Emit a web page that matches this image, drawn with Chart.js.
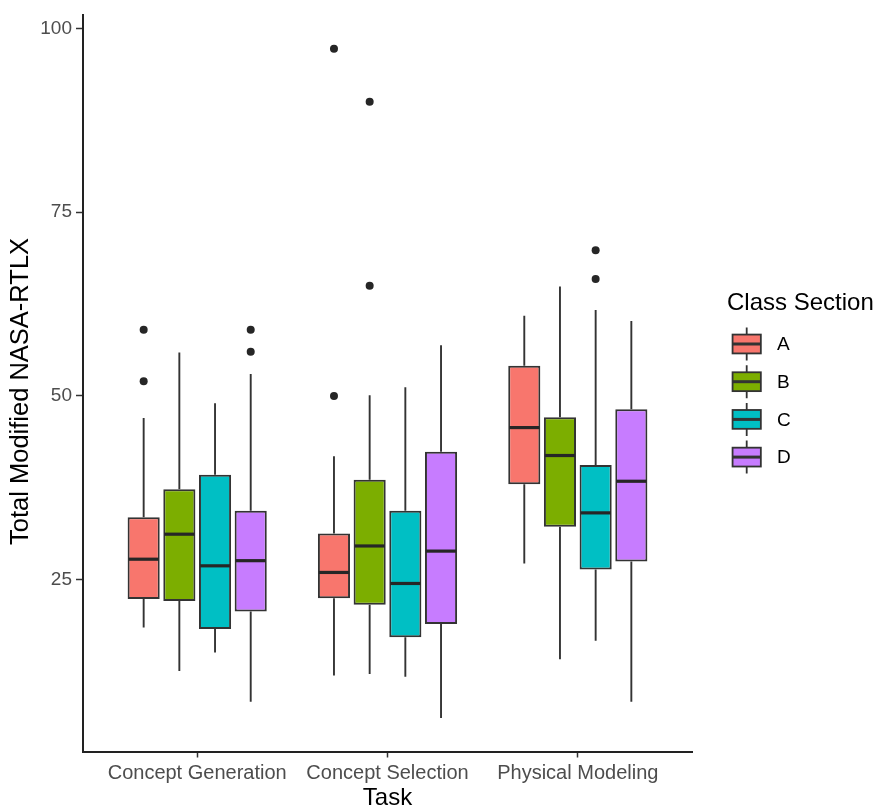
<!DOCTYPE html>
<html>
<head>
<meta charset="utf-8">
<title>Total Modified NASA-RTLX by Task and Class Section</title>
<script src="https://cdn.jsdelivr.net/npm/chart.js@4/dist/chart.umd.min.js"></script>
<style>
  html, body { margin: 0; padding: 0; background: #ffffff; }
  #wrap { width: 879px; height: 810px; }
</style>
</head>
<body>
<div id="wrap"><canvas id="chart" width="879" height="810"></canvas></div>
<script>
// Tasks on the x axis, class sections as dodged boxes within each task
const tasks = ['Concept Generation', 'Concept Selection', 'Physical Modeling'];
const sections = ['A', 'B', 'C', 'D'];
const sectionColors = ['#F8766D', '#7CAE00', '#00BFC4', '#C77CFF'];

// Box statistics: one row per class section (A-D), one column per task
const whiskerLow  = [[18.5, 12.0, 27.2], [12.6, 12.2, 14.2], [15.1, 11.8, 16.7], [8.4, 6.2, 8.4]];
const quartile1   = [[22.4, 22.5, 38.0], [22.1, 21.6, 32.2], [18.3, 17.2, 26.4], [20.7, 19.0, 27.5]];
const median      = [[27.8, 26.0, 45.7], [31.2, 29.6, 41.9], [26.9, 24.5, 34.1], [27.6, 28.9, 38.4]];
const quartile3   = [[33.5, 31.3, 54.1], [37.3, 38.6, 47.1], [39.3, 34.4, 40.6], [34.4, 42.4, 48.2]];
const whiskerHigh = [[47.0, 41.8, 60.9], [55.9, 50.1, 64.9], [49.0, 51.2, 61.7], [53.0, 56.9, 60.2]];
const outliers    = [
  [[52, 59], [50, 97.2], []],
  [[], [65, 90], []],
  [[], [], [65.9, 69.8]],
  [[56, 59], [], []]
];
const yTicks = [25, 50, 75, 100];

const FONT = '"Liberation Sans", Arial, Helvetica, sans-serif';
const LINE = '#333333';

// Dodge the boxes of each task side by side (total dodge width 0.75 of a category)
const dodgeWidth = 0.75;
const boxPos = (s, t) => t + 1 + (s - (sections.length - 1) / 2) * dodgeWidth / sections.length;

// Value range with 5% expansion on both ends
const allValues = [...whiskerLow.flat(), ...whiskerHigh.flat(), ...outliers.flat(2)];
const vMin = Math.min(...allValues), vMax = Math.max(...allValues);
const pad = (vMax - vMin) * 0.05;

const boxDatasets = sections.map((name, s) => ({
  type: 'bar',
  label: name,
  data: tasks.map((_, t) => ({ x: boxPos(s, t), y: [quartile1[s][t], quartile3[s][t]] })),
  backgroundColor: sectionColors[s],
  borderColor: LINE,
  borderWidth: 2,
  borderSkipped: false,
  grouped: false,
  categoryPercentage: 1,
  barPercentage: 0.9,
  order: 2
}));

const outlierDatasets = sections.map((name, s) => ({
  type: 'scatter',
  label: name + ' outliers',
  data: tasks.flatMap((_, t) => outliers[s][t].map(v => ({ x: boxPos(s, t), y: v }))),
  pointRadius: 4,
  pointBackgroundColor: '#262626',
  pointBorderWidth: 0,
  order: 1
}));

// Whiskers under the boxes, medians on top of them
const boxplotLines = {
  id: 'boxplotLines',
  beforeDatasetsDraw(chart) {
    const { ctx } = chart;
    const yScale = chart.scales.y;
    ctx.save();
    ctx.strokeStyle = LINE;
    ctx.lineWidth = 1.9;
    sections.forEach((_, s) => {
      const meta = chart.getDatasetMeta(s);
      meta.data.forEach((bar, t) => {
        ctx.beginPath();
        ctx.moveTo(bar.x, yScale.getPixelForValue(whiskerHigh[s][t]));
        ctx.lineTo(bar.x, yScale.getPixelForValue(quartile3[s][t]));
        ctx.moveTo(bar.x, yScale.getPixelForValue(quartile1[s][t]));
        ctx.lineTo(bar.x, yScale.getPixelForValue(whiskerLow[s][t]));
        ctx.stroke();
      });
    });
    ctx.restore();
  },
  afterDatasetsDraw(chart) {
    const { ctx } = chart;
    const yScale = chart.scales.y;
    ctx.save();
    ctx.strokeStyle = '#262626';
    ctx.lineWidth = 3.2;
    sections.forEach((_, s) => {
      const meta = chart.getDatasetMeta(s);
      meta.data.forEach((bar, t) => {
        const y = yScale.getPixelForValue(median[s][t]);
        ctx.beginPath();
        ctx.moveTo(bar.x - bar.width / 2 + 1, y);
        ctx.lineTo(bar.x + bar.width / 2 - 1, y);
        ctx.stroke();
      });
    });
    ctx.restore();
  }
};

// Y-axis title, set slightly below the panel centre
const yAxisTitle = {
  id: 'yAxisTitle',
  afterDraw(chart) {
    const { ctx, chartArea } = chart;
    ctx.save();
    ctx.translate(21, (chartArea.top + chartArea.bottom) / 2 + 8);
    ctx.rotate(-Math.PI / 2);
    ctx.fillStyle = '#000000';
    ctx.font = '25.5px ' + FONT;
    ctx.textAlign = 'center';
    ctx.textBaseline = 'middle';
    ctx.fillText('Total Modified NASA-RTLX', 0, 0);
    ctx.restore();
  }
};

// Legend with boxplot keys to the right of the panel
const boxLegend = {
  id: 'boxLegend',
  afterDraw(chart) {
    const { ctx } = chart;
    const left = chart.chartArea.right + 35;
    const key = 37.7;
    ctx.save();
    ctx.fillStyle = '#000000';
    ctx.textBaseline = 'middle';
    ctx.textAlign = 'left';
    ctx.font = '24px ' + FONT;
    ctx.fillText('Class Section', left, 303);
    sections.forEach((name, i) => {
      const cy = 344 + i * key;
      const cx = left + 19.7;
      const bw = key * 0.75, bh = key * 0.5;
      ctx.strokeStyle = LINE;
      ctx.lineWidth = 1.8;
      ctx.beginPath();
      ctx.moveTo(cx, cy - 16.5); ctx.lineTo(cx, cy - bh / 2);
      ctx.moveTo(cx, cy + bh / 2); ctx.lineTo(cx, cy + 16.5);
      ctx.stroke();
      ctx.fillStyle = sectionColors[i];
      ctx.fillRect(cx - bw / 2, cy - bh / 2, bw, bh);
      ctx.strokeRect(cx - bw / 2, cy - bh / 2, bw, bh);
      ctx.lineWidth = 3;
      ctx.beginPath();
      ctx.moveTo(cx - bw / 2, cy); ctx.lineTo(cx + bw / 2, cy);
      ctx.stroke();
      ctx.fillStyle = '#000000';
      ctx.font = '19px ' + FONT;
      ctx.fillText(name, left + 50, cy + 1);
    });
    ctx.restore();
  }
};

new Chart(document.getElementById('chart'), {
  type: 'bar',
  data: { datasets: [...boxDatasets, ...outlierDatasets] },
  options: {
    responsive: false,
    devicePixelRatio: 1,
    animation: false,
    events: [],
    layout: { padding: { top: 13, right: 187, bottom: 0, left: 0 } },
    plugins: { legend: { display: false }, tooltip: { enabled: false } },
    scales: {
      x: {
        type: 'linear',
        min: 0.4,
        max: tasks.length + 0.6,
        offset: false,
        afterBuildTicks(scale) { scale.ticks = tasks.map((_, t) => ({ value: t + 1 })); },
        afterFit(scale) { scale.height = 58.5; },
        border: { display: true, color: '#222222', width: 2 },
        grid: { display: true, offset: false, drawOnChartArea: false, drawTicks: true, tickLength: 6, tickColor: LINE, tickWidth: 1.5 },
        ticks: {
          autoSkip: false, maxRotation: 0, padding: 4, color: '#4D4D4D',
          font: { family: FONT, size: 20 },
          callback: (v) => tasks[Math.round(v) - 1]
        },
        title: {
          display: true, text: 'Task', color: '#000000',
          font: { family: FONT, size: 24, lineHeight: 1 },
          padding: { top: 0, bottom: 0 }
        }
      },
      y: {
        type: 'linear',
        min: vMin - pad,
        max: vMax + pad,
        afterBuildTicks(scale) { scale.ticks = yTicks.map(v => ({ value: v })); },
        afterFit(scale) { scale.width = 83; },
        border: { display: true, color: '#222222', width: 2 },
        grid: { display: true, drawOnChartArea: false, drawTicks: true, tickLength: 7, tickColor: LINE, tickWidth: 1.5 },
        ticks: {
          padding: 4, color: '#4D4D4D',
          font: { family: FONT, size: 19 }
        },
        title: { display: false }
      }
    }
  },
  plugins: [boxplotLines, yAxisTitle, boxLegend]
});
</script>
</body>
</html>
